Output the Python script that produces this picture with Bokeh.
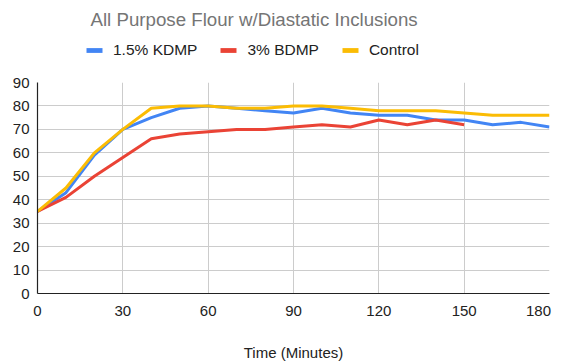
from bokeh.plotting import figure
from bokeh.layouts import column
from bokeh.models import Legend, LegendItem, Label, ColumnDataSource, FixedTicker, Range1d
from bokeh.embed import file_html
from bokeh.resources import INLINE

title_text = "All Purpose Flour w/Diastatic Inclusions"
x_label = "Time (Minutes)"

time_kdmp = [0, 10, 20, 30, 40, 50, 60, 70, 80, 90, 100, 110, 120, 130, 140, 150, 160, 170, 180]
kdmp = [35, 43, 59, 70, 75, 79, 80, 79, 78, 77, 79, 77, 76, 76, 74, 74, 72, 73, 71]

time_bdmp = [0, 10, 20, 30, 40, 50, 60, 70, 80, 90, 100, 110, 120, 130, 140, 150]
bdmp = [35, 41, 50, 58, 66, 68, 69, 70, 70, 71, 72, 71, 74, 72, 74, 72]

time_control = [0, 10, 20, 30, 40, 50, 60, 70, 80, 90, 100, 110, 120, 130, 140, 150, 160, 170, 180]
control = [35, 45, 60, 70, 79, 80, 80, 79, 79, 80, 80, 79, 78, 78, 78, 77, 76, 76, 76]

series_names = ["1.5% KDMP", "3% BDMP", "Control"]
colors = ["#4285F4", "#EA4335", "#FBBC04"]

x_ticks = [0, 30, 60, 90, 120, 150, 180]
y_ticks = [0, 10, 20, 30, 40, 50, 60, 70, 80, 90]

FONT = "Liberation Sans"
W, H_TOP, H_MAIN = 563, 70, 294
LEFT, RIGHT = 37, 14

# ---- header: title + legend (frame aligned with the chart frame) ----
top = figure(width=W, height=H_TOP, output_backend="svg", toolbar_location=None,
             x_range=Range1d(LEFT, W - RIGHT), y_range=Range1d(0, H_TOP),
             x_axis_type=None, y_axis_type=None,
             min_border=0, min_border_left=LEFT, min_border_right=RIGHT,
             min_border_top=0, min_border_bottom=0)
top.outline_line_color = None
top.background_fill_color = "white"
top.border_fill_color = "white"

title = Label(x=90, y=H_TOP - 18.5, text=title_text,
              text_font=FONT, text_font_size="18.7px", text_color="#757575",
              text_baseline="alphabetic", text_align="left")
top.add_layout(title)

items = []
for name, c in zip(series_names, colors):
    src = ColumnDataSource(data=dict(l=[-1000], r=[-999], b=[-1000], t=[-999]))
    q = top.quad(left="l", right="r", bottom="b", top="t", source=src, fill_color=c, line_color=None)
    items.append(LegendItem(label=name, renderers=[q]))

legend = Legend(items=items, orientation="horizontal", location=(84 - LEFT, 10),
                glyph_width=20, glyph_height=6, label_standoff=9, spacing=21,
                padding=0, margin=0, border_line_color=None, background_fill_alpha=0,
                label_text_font=FONT, label_text_font_size="15.5px", label_text_color="#222222",
                label_height=20)
top.add_layout(legend, "center")

# ---- main chart ----
p = figure(width=W, height=H_MAIN, output_backend="svg", toolbar_location=None,
           x_range=Range1d(0, 180), y_range=Range1d(0, 90), min_border=0,
           min_border_left=LEFT, min_border_right=RIGHT, min_border_top=12, min_border_bottom=71)
p.title = None
p.outline_line_color = None
p.background_fill_color = "white"
p.border_fill_color = "white"

p.xaxis.ticker = FixedTicker(ticks=x_ticks)
p.yaxis.ticker = FixedTicker(ticks=y_ticks)
p.xaxis.major_label_overrides = {180: "180\u00a0\u00a0\u00a0"}
for ax in (p.xaxis, p.yaxis):
    ax.major_tick_line_color = None
    ax.minor_tick_line_color = None
    ax.major_tick_out = 0
    ax.major_tick_in = 0
    ax.axis_line_color = "#222222"
    ax.axis_line_width = 1.2
    ax.major_label_text_font = FONT
    ax.major_label_text_font_size = "15px"
    ax.major_label_text_color = "#222222"
p.xaxis.major_label_standoff = 8
p.yaxis.major_label_standoff = 8
p.xaxis.axis_label = x_label
p.xaxis.axis_label_text_font = FONT
p.xaxis.axis_label_text_font_size = "15px"
p.xaxis.axis_label_text_font_style = "normal"
p.xaxis.axis_label_text_color = "#222222"
p.xaxis.axis_label_standoff = 22

p.xgrid.grid_line_color = "#cccccc"
p.ygrid.grid_line_color = "#cccccc"
p.xgrid.grid_line_width = 1
p.ygrid.grid_line_width = 1

xs = [time_kdmp, time_bdmp, time_control]
ys = [kdmp, bdmp, control]
for x, y, c in zip(xs, ys, colors):
    p.line(x, y, line_color=c, line_width=3, line_join="round")

layout = column(top, p, spacing=0)
open("out.html", "w").write(file_html(layout, INLINE))
